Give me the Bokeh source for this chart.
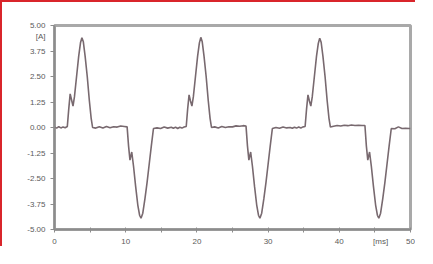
from bokeh.plotting import figure
from bokeh.models import FixedTicker, PrintfTickFormatter, Range1d
from bokeh.embed import file_html
from bokeh.resources import INLINE

# ---- data (time in ms, current in A) ----
t_ms = [0.0, 0.3, 0.6, 0.9, 1.2, 1.5, 1.8, 2.0, 2.2, 2.4, 2.6, 2.8, 3.1, 3.4, 3.65, 3.85, 4.05, 4.3, 4.6, 4.9,
        5.15, 5.35, 5.8, 6.3, 6.8, 7.3, 7.8, 8.3, 8.8, 9.3, 9.8, 10.2, 10.4, 10.6, 10.85, 11.1, 11.4, 11.7, 11.95,
        12.15, 12.4, 12.7, 13.0, 13.3, 13.6, 13.9, 14.4, 14.9, 15.4, 15.9, 16.4,
        16.7, 17.0, 17.3, 17.6, 17.9, 18.2, 18.5, 18.7, 18.9, 19.1, 19.3, 19.5, 19.8, 20.1, 20.35, 20.55, 20.75,
        21.0, 21.3, 21.6, 21.85, 22.05, 22.5, 23.0, 23.5, 24.0, 24.5, 25.0, 25.5, 26.0, 26.5, 26.9, 27.1, 27.3,
        27.55, 27.8, 28.1, 28.4, 28.65, 28.85, 29.1, 29.4, 29.7, 30.0, 30.3, 30.6, 31.1, 31.6, 32.1, 32.6, 33.1,
        33.4, 33.7, 34.0, 34.3, 34.6, 34.9, 35.2, 35.4, 35.6, 35.8, 36.0, 36.2, 36.5, 36.8, 37.05, 37.25, 37.45,
        37.7, 38.0, 38.3, 38.55, 38.75, 39.2, 39.7, 40.2, 40.7, 41.2, 41.7, 42.2, 42.7, 43.2, 43.6, 43.8, 44.0,
        44.25, 44.5, 44.8, 45.1, 45.35, 45.55, 45.8, 46.1, 46.4, 46.7, 47.0, 47.3, 47.8, 48.3, 48.8, 49.3, 49.8,
        50.0]
i_amp = [0.02, -0.03, 0.04, -0.02, 0.03, -0.01, 0.05, 0.9, 1.65, 1.35, 1.05, 1.5, 2.5, 3.5, 4.15, 4.4, 4.2, 3.5,
         2.5, 1.3, 0.45, 0.0, -0.03, 0.04, -0.02, 0.05, -0.01, 0.04, 0.02, 0.07, 0.05, 0.03, -0.9, -1.6, -1.2,
         -1.9, -2.9, -3.8, -4.3, -4.45, -4.2, -3.5, -2.7, -1.8, -0.9, -0.05, -0.02, -0.05, 0.02, -0.03, 0.01,
         -0.04, 0.02, -0.05, 0.01, -0.03, 0.02, 0.05, 0.9, 1.6, 1.3, 1.05, 1.5, 2.5, 3.5, 4.15, 4.42, 4.2,
         3.5, 2.5, 1.3, 0.45, 0.0, 0.03, -0.02, 0.05, 0.0, 0.04, 0.03, 0.08, 0.06, 0.09, 0.07, -0.9, -1.6,
         -1.2, -1.9, -2.9, -3.8, -4.3, -4.45, -4.2, -3.5, -2.7, -1.8, -0.9, -0.05, 0.0, -0.04, 0.02, -0.02, 0.0,
         -0.04, 0.01, -0.03, 0.02, -0.02, 0.03, 0.05, 0.9, 1.6, 1.3, 1.05, 1.5, 2.5, 3.5, 4.12, 4.38, 4.18,
         3.5, 2.5, 1.3, 0.45, 0.02, 0.06, 0.1, 0.07, 0.11, 0.09, 0.12, 0.1, 0.11, 0.1, 0.1, -0.9, -1.6,
         -1.2, -1.9, -2.9, -3.8, -4.3, -4.45, -4.2, -3.5, -2.7, -1.8, -0.9, -0.05, -0.06, 0.03, -0.05, -0.04, -0.05,
         -0.05]

y_ticks = [-5.0, -3.75, -2.5, -1.25, 0.0, 1.25, 2.5, 3.75, 5.0]
x_ticks = [0, 10, 20, 30, 40, 50]
x_minor = [0, 5, 10, 15, 20, 25, 30, 35, 40, 45, 50]
y_unit = "[A]"
y_unit_at = 4.45
x_unit = "[ms]"
x_unit_at = 45.8

FONT = "Liberation Sans"
TXT = "#5a5a5a"
AXC = "#8c8c8c"

p = figure(width=415, height=246, output_backend="svg", toolbar_location=None,
           x_range=Range1d(0, 50), y_range=Range1d(-5, 5),
           min_border_left=52, min_border_right=7, min_border_top=23, min_border_bottom=13,
           background_fill_color="white", border_fill_color="white")
p.styles = {"border-top": "2px solid #d9252b", "border-left": "2px solid #d9252b"}

p.xgrid.visible = False
p.ygrid.visible = False
p.outline_line_color = "#a9a9a9"
p.outline_line_width = 3

p.line(t_ms, i_amp, line_color="#78696f", line_width=1.6)

for ax in (p.xaxis[0], p.yaxis[0]):
    ax.axis_line_color = AXC
    ax.axis_line_width = 2
    ax.major_tick_in = 0
    ax.major_tick_out = 0
    ax.minor_tick_line_color = AXC
    ax.minor_tick_line_width = 1
    ax.major_label_text_font = FONT
    ax.major_label_text_font_size = "8px"
    ax.major_label_text_color = TXT

# tick marks are drawn as the minor ticks; the unit names ride on an extra labelled position
p.xaxis.ticker = FixedTicker(ticks=x_ticks + [x_unit_at], minor_ticks=x_minor)
p.xaxis.major_label_overrides = {x_unit_at: x_unit}
p.xaxis.minor_tick_in = 2
p.xaxis.minor_tick_out = 3
p.xaxis.major_label_standoff = 4

p.yaxis.ticker = FixedTicker(ticks=y_ticks + [y_unit_at], minor_ticks=y_ticks)
p.yaxis.formatter = PrintfTickFormatter(format="%.2f")
p.yaxis.major_label_overrides = {y_unit_at: y_unit}
p.yaxis.minor_tick_in = 0
p.yaxis.minor_tick_out = 4
p.yaxis.major_label_standoff = 5

open("out.html", "w").write(file_html(p, INLINE))
